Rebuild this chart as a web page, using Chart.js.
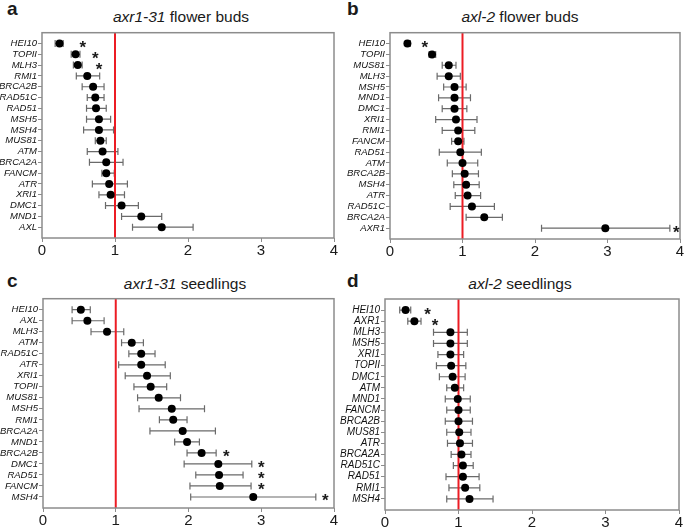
<!DOCTYPE html>
<html>
<head>
<meta charset="utf-8">
<script src="https://cdn.jsdelivr.net/npm/chart.js@4.4.1/dist/chart.umd.min.js"></script>
<style>
  body { margin: 0; background: #fff; width: 685px; height: 528px; position: relative; overflow: hidden;
         font-family: Arial, "Liberation Sans", sans-serif; color: #1a1a1a; }
  .letter { position: absolute; font-weight: bold; font-size: 19px; line-height: 19px; }
  .title { position: absolute; font-size: 15.5px; line-height: 18px; white-space: nowrap; transform: translateX(-50%); }
  canvas { position: absolute; }
</style>
</head>
<body>

<div class="letter" style="left:7px;top:-1px">a</div>
<div class="letter" style="left:347px;top:-1px">b</div>
<div class="letter" style="left:7px;top:271px">c</div>
<div class="letter" style="left:347px;top:271px">d</div>

<div class="title" style="left:181px;top:8px"><i>axr1-31</i> flower buds</div>
<div class="title" style="left:520px;top:8px"><i>axl-2</i> flower buds</div>
<div class="title" style="left:185px;top:275px"><i>axr1-31</i> seedlings</div>
<div class="title" style="left:520px;top:275px"><i>axl-2</i> seedlings</div>

<canvas id="chartA" width="340" height="236" style="left:0;top:26px"></canvas>
<canvas id="chartB" width="345" height="236" style="left:340px;top:26px"></canvas>
<canvas id="chartC" width="340" height="236" style="left:0;top:292px"></canvas>
<canvas id="chartD" width="345" height="236" style="left:340px;top:292px"></canvas>

<script>
// reference ratio (red line)
const refLine = 1;
const xTicks = [0, 1, 2, 3, 4];

// a: axr1-31 flower buds
const genesA = ['HEI10','TOPII','MLH3','RMI1','BRCA2B','RAD51C','RAD51','MSH5','MSH4','MUS81','ATM','BRCA2A','FANCM','ATR','XRI1','DMC1','MND1','AXL'];
const meanA = [0.24,0.46,0.49,0.62,0.70,0.73,0.74,0.78,0.78,0.80,0.83,0.88,0.88,0.92,0.94,1.09,1.36,1.64];
const lowA  = [0.18,0.40,0.43,0.47,0.55,0.62,0.61,0.61,0.57,0.73,0.62,0.65,0.82,0.69,0.78,0.87,1.09,1.24];
const highA = [0.29,0.52,0.55,0.79,0.85,0.85,0.88,0.94,0.98,0.88,1.04,1.11,0.99,1.17,1.13,1.32,1.64,2.07];
const starGenesA = ['HEI10','TOPII','MLH3'];
const starXA = [0.56,0.73,0.78];

// b: axl-2 flower buds
const genesB = ['HEI10','TOPII','MUS81','MLH3','MSH5','MND1','DMC1','XRI1','RMI1','FANCM','RAD51','ATM','BRCA2B','MSH4','ATR','RAD51C','BRCA2A','AXR1'];
const meanB = [0.24,0.58,0.81,0.81,0.89,0.89,0.89,0.91,0.94,0.94,0.97,1.00,1.03,1.05,1.07,1.13,1.30,2.97];
const lowB  = [0.22,0.54,0.72,0.65,0.74,0.67,0.72,0.63,0.72,0.85,0.68,0.79,0.86,0.88,0.90,0.83,1.05,2.09];
const highB = [0.28,0.63,0.91,0.97,1.05,1.11,1.06,1.20,1.17,1.02,1.26,1.21,1.22,1.23,1.25,1.44,1.55,3.86];
const starGenesB = ['HEI10','AXR1'];
const starXB = [0.48,3.95];

// c: axr1-31 seedlings
const genesC = ['HEI10','AXL','MLH3','ATM','RAD51C','ATR','XRI1','TOPII','MUS81','MSH5','RMI1','BRCA2A','MND1','BRCA2B','DMC1','RAD51','FANCM','MSH4'];
const meanC = [0.52,0.61,0.88,1.22,1.35,1.35,1.43,1.48,1.59,1.77,1.79,1.92,1.98,2.18,2.41,2.42,2.43,2.89];
const lowC  = [0.40,0.40,0.66,1.08,1.18,1.04,1.13,1.25,1.30,1.32,1.60,1.47,1.81,1.98,1.94,2.10,2.02,2.03];
const highC = [0.65,0.84,1.11,1.38,1.54,1.68,1.75,1.70,1.89,2.22,1.98,2.37,2.15,2.38,2.87,2.75,2.86,3.75];
const starGenesC = ['BRCA2B','DMC1','RAD51','FANCM','MSH4'];
const starXC = [2.52,3.0,3.0,3.0,3.88];

// d: axl-2 seedlings
const genesD = ['HEI10','AXR1','MLH3','MSH5','XRI1','TOPII','DMC1','ATM','MND1','FANCM','BRCA2B','MUS81','ATR','BRCA2A','RAD51C','RAD51','RMI1','MSH4'];
const meanD = [0.28,0.40,0.89,0.89,0.89,0.90,0.92,0.95,0.99,1.00,1.00,1.01,1.02,1.04,1.06,1.06,1.09,1.15];
const lowD  = [0.20,0.31,0.66,0.66,0.72,0.70,0.74,0.84,0.82,0.84,0.82,0.84,0.85,0.90,0.93,0.83,0.87,0.84];
const highD = [0.35,0.49,1.12,1.12,1.07,1.10,1.09,1.07,1.16,1.16,1.19,1.17,1.19,1.17,1.20,1.28,1.29,1.47];
const starGenesD = ['HEI10','AXR1'];
const starXD = [0.58,0.68];

const FONT = 'Arial, "Liberation Sans", sans-serif';
const AXIS_GREY = '#8c8c8c';

// error bars, red line, frame and asterisks
function marks(genes, low, high, starGenes, starX) {
    return {
        id: 'marks',
        beforeDatasetsDraw(chart) {
            const { ctx, chartArea: a, scales: { x, y } } = chart;
            ctx.save();
            ctx.strokeStyle = '#6a6a6a';
            ctx.lineWidth = 1.2;
            low.forEach((lo, i) => {
                const py = y.getPixelForValue(i);
                const x0 = x.getPixelForValue(lo), x1 = x.getPixelForValue(high[i]);
                ctx.beginPath();
                ctx.moveTo(x0, py); ctx.lineTo(x1, py);
                ctx.moveTo(x0, py - 3.5); ctx.lineTo(x0, py + 3.5);
                ctx.moveTo(x1, py - 3.5); ctx.lineTo(x1, py + 3.5);
                ctx.stroke();
            });
            const rx = x.getPixelForValue(refLine);
            ctx.strokeStyle = '#ec1c24';
            ctx.lineWidth = 2;
            ctx.beginPath();
            ctx.moveTo(rx, a.top); ctx.lineTo(rx, a.bottom);
            ctx.stroke();
            ctx.restore();
        },
        afterDraw(chart) {
            const { ctx, chartArea: a, scales: { x, y } } = chart;
            ctx.save();
            ctx.strokeStyle = AXIS_GREY;
            ctx.lineWidth = 1.5;
            ctx.strokeRect(a.left, a.top, a.right - a.left, a.bottom - a.top);
            ctx.fillStyle = '#1a1a1a';
            ctx.font = 'bold 17px ' + FONT;
            ctx.textAlign = 'center';
            ctx.textBaseline = 'alphabetic';
            starGenes.forEach((g, k) => {
                const py = y.getPixelForValue(genes.indexOf(g));
                ctx.fillText('*', x.getPixelForValue(starX[k]), py + 9.5);
            });
            ctx.restore();
        }
    };
}

function panel(id, genes, mean, low, high, starGenes, starX, yW, padTop, padRight, xH, labelSize) {
    new Chart(document.getElementById(id), {
        type: 'scatter',
        data: {
            datasets: [{
                data: genes.map((g, i) => ({ x: mean[i], y: i })),
                pointRadius: 4,
                pointBackgroundColor: '#000',
                pointBorderWidth: 0
            }]
        },
        options: {
            responsive: false,
            animation: false,
            layout: { autoPadding: false, padding: { top: padTop, right: padRight, left: 0, bottom: 0 } },
            plugins: { legend: { display: false }, tooltip: { enabled: false } },
            scales: {
                x: {
                    min: 0, max: 4,
                    afterBuildTicks: s => { s.ticks = xTicks.map(v => ({ value: v })); },
                    afterFit: s => { s.height = xH; },
                    ticks: { padding: 0, maxRotation: 0, color: '#1a1a1a', font: { family: FONT, size: 15 } },
                    grid: { drawOnChartArea: false, drawTicks: true, tickLength: 4, color: AXIS_GREY },
                    border: { display: false }
                },
                y: {
                    min: -1, max: genes.length, reverse: true,
                    afterBuildTicks: s => { s.ticks = genes.map((g, i) => ({ value: i })); },
                    afterFit: s => { s.width = yW; },
                    ticks: {
                        autoSkip: false, padding: 1, color: '#111',
                        font: { family: FONT, size: labelSize, style: 'italic' },
                        callback: v => genes[v]
                    },
                    grid: { drawOnChartArea: false, drawTicks: true, tickLength: 4, color: AXIS_GREY },
                    border: { display: false }
                }
            }
        },
        plugins: [marks(genes, low, high, starGenes, starX)]
    });
}

panel('chartA', genesA, meanA, lowA, highA, starGenesA, starXA, 42, 2, 6, 24, 9.5);
panel('chartB', genesB, meanB, lowB, highB, starGenesB, starXB, 50, 5, 5, 23, 9.5);
panel('chartC', genesC, meanC, lowC, highC, starGenesC, starXC, 43, 6, 6, 20, 9.5);
panel('chartD', genesD, meanD, lowD, highD, starGenesD, starXD, 45, 6, 6, 18, 10);
</script>
</body>
</html>
